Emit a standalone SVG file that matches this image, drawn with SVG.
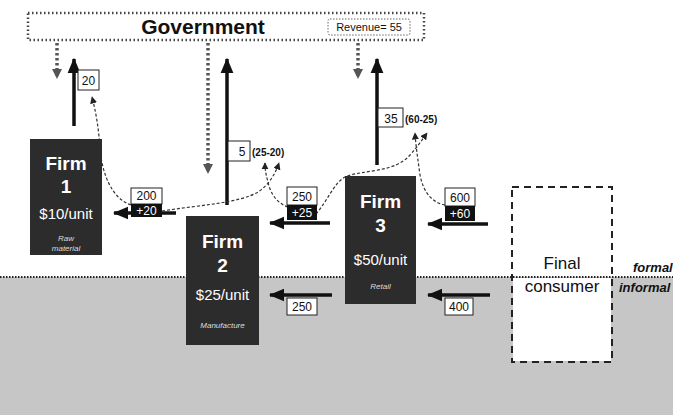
<svg xmlns="http://www.w3.org/2000/svg" width="673" height="415" viewBox="0 0 673 415">
<defs>
<marker id="ah" viewBox="0 0 12 10" refX="11" refY="5" markerWidth="4.4" markerHeight="3.8" orient="auto" markerUnits="strokeWidth"><path d="M0,0 L12,5 L0,10 z" fill="#111"/></marker>
<marker id="ahg" viewBox="0 0 10 10" refX="9" refY="5" markerWidth="3" markerHeight="3" orient="auto" markerUnits="strokeWidth"><path d="M0,0 L10,5 L0,10 z" fill="#555"/></marker>
<marker id="ahd" viewBox="0 0 10 10" refX="9" refY="5" markerWidth="6" markerHeight="6" orient="auto" markerUnits="strokeWidth"><path d="M0,0 L10,5 L0,10 z" fill="#222"/></marker>
</defs>
<style>
text{font-family:"Liberation Sans",Arial,sans-serif}
.firm{fill:#2c2c2c}
.ft{fill:#fff;font-weight:bold;font-size:19px;text-anchor:middle}
.fp{fill:#fff;font-size:15px;text-anchor:middle}
.fs{fill:#ddd;font-size:8px;font-style:italic;text-anchor:middle}
.solid{stroke:#111;stroke-width:3.5;fill:none}
.gov{stroke:#555;stroke-width:3.5;stroke-dasharray:2.5 2.5;fill:none}
.dash{stroke:#333;stroke-width:1.2;stroke-dasharray:3 2;fill:none}
.lb{fill:#fff;stroke:#222;stroke-width:1}
.lt{font-size:12px;text-anchor:middle;fill:#111}
.lw{font-size:12px;text-anchor:middle;fill:#fff}
</style>
<rect x="0" y="0" width="673" height="415" fill="#fff"/>
<rect x="0" y="277" width="673" height="138" fill="#c6c6c6"/>
<line x1="0" y1="277" x2="673" y2="277" stroke="#222" stroke-width="2" stroke-dasharray="1.5 1.5"/>
<text x="633" y="272" font-size="13" font-weight="bold" font-style="italic" fill="#111">formal</text>
<text x="619" y="292" font-size="13" font-weight="bold" font-style="italic" fill="#111">informal</text>

<g id="government">
<rect x="28" y="13" width="396" height="27" fill="#fff" stroke="#444" stroke-width="2.5" stroke-dasharray="1.5 2.5"/>
<text x="203" y="34" font-size="21" font-weight="bold" text-anchor="middle" fill="#111">Government</text>
<rect x="328" y="19" width="82" height="16" rx="2" fill="#fff" stroke="#666" stroke-width="1" stroke-dasharray="1.5 1.5"/>
<text x="369" y="31" font-size="11" text-anchor="middle" fill="#111">Revenue= 55</text>
</g>

<g id="connectors">
<line class="gov" x1="57" y1="43" x2="57" y2="78" marker-end="url(#ahg)"/>
<line class="gov" x1="208" y1="43" x2="208" y2="173" marker-end="url(#ahg)"/>
<line class="gov" x1="358" y1="43" x2="358" y2="78" marker-end="url(#ahg)"/>
<line class="solid" x1="74" y1="126" x2="74" y2="59" marker-end="url(#ah)"/>
<line class="solid" x1="227" y1="205" x2="227" y2="59" marker-end="url(#ah)"/>
<line class="solid" x1="377" y1="165" x2="377" y2="59" marker-end="url(#ah)"/>
<line class="solid" x1="176" y1="213" x2="114" y2="213" marker-end="url(#ah)"/>
<line class="solid" x1="330" y1="223" x2="270" y2="223" marker-end="url(#ah)"/>
<line class="solid" x1="488" y1="224" x2="428" y2="224" marker-end="url(#ah)"/>
<line class="solid" x1="332" y1="295" x2="270" y2="295" marker-end="url(#ah)"/>
<line class="solid" x1="490" y1="295" x2="428" y2="295" marker-end="url(#ah)"/>
<path class="dash" d="M131,205 C110,198 102,170 100,150 C99,130 96,112 92,97" marker-end="url(#ahd)"/>
<path class="dash" d="M162,211 C200,205 240,203 258,192 C270,184 276,172 279,163" marker-end="url(#ahd)"/>
<path class="dash" d="M288,207 C276,203 270,192 268,182 C266,175 265,170 265,163" marker-end="url(#ahd)"/>
<path class="dash" d="M316,214 C328,200 334,183 345,177 C360,170 395,173 410,155 C418,146 422,140 427,133" marker-end="url(#ahd)"/>
<path class="dash" d="M445,205 C430,202 423,190 420,175 C418,160 416,148 415,133" marker-end="url(#ahd)"/>
</g>

<g id="labels">
<rect class="lb" x="78" y="70" width="21" height="20"/><text class="lt" x="88.5" y="85" font-size="14">20</text>
<rect class="lb" x="228" y="141" width="22" height="20"/><text class="lt" x="242" y="156" font-size="14">5</text>
<text x="252" y="156" font-size="10" font-weight="bold" fill="#111">(25-20)</text>
<rect class="lb" x="378" y="108" width="25" height="19"/><text class="lt" x="391" y="123" font-size="14">35</text>
<text x="405" y="123" font-size="10" font-weight="bold" fill="#111">(60-25)</text>
<rect class="lb" x="131" y="188" width="31" height="16"/><text class="lt" x="146.5" y="200">200</text>
<rect x="131" y="204" width="31" height="13" fill="#111"/><text class="lw" x="146.5" y="215">+20</text>
<rect class="lb" x="287" y="187" width="30" height="18"/><text class="lt" x="302" y="201">250</text>
<rect x="287" y="205" width="30" height="15" fill="#111"/><text class="lw" x="302" y="217">+25</text>
<rect class="lb" x="445" y="188" width="30" height="18"/><text class="lt" x="460" y="202">600</text>
<rect x="445" y="206" width="30" height="15" fill="#111"/><text class="lw" x="460" y="218">+60</text>
<rect class="lb" x="287" y="298" width="30" height="17"/><text class="lt" x="302" y="311">250</text>
<rect class="lb" x="445" y="298" width="28" height="17"/><text class="lt" x="459" y="311">400</text>
</g>

<g id="firm1">
<rect class="firm" x="30" y="139" width="72" height="116"/>
<text class="ft" x="66" y="170">Firm</text>
<text class="ft" x="66" y="193">1</text>
<text class="fp" x="66" y="219">$10/unit</text>
<text class="fs" x="66" y="241">Raw</text>
<text class="fs" x="66" y="251">material</text>
</g>
<g id="firm2">
<rect class="firm" x="186" y="216" width="73" height="129"/>
<text class="ft" x="222.5" y="248">Firm</text>
<text class="ft" x="222.5" y="272">2</text>
<text class="fp" x="222.5" y="300">$25/unit</text>
<text class="fs" x="222.5" y="328">Manufacture</text>
</g>
<g id="firm3">
<rect class="firm" x="345" y="176" width="71" height="128"/>
<text class="ft" x="380.5" y="208">Firm</text>
<text class="ft" x="380.5" y="232">3</text>
<text class="fp" x="380.5" y="265">$50/unit</text>
<text class="fs" x="380.5" y="289">Retail</text>
</g>
<g id="consumer">
<rect x="512" y="187" width="100" height="175" fill="none" stroke="#222" stroke-width="2" stroke-dasharray="7 5"/>
<rect x="513" y="278" width="98" height="83" fill="#fff"/>
<text x="562" y="269" font-size="17" text-anchor="middle" fill="#111">Final</text>
<text x="562" y="292" font-size="17" text-anchor="middle" fill="#111">consumer</text>
</g>
</svg>
